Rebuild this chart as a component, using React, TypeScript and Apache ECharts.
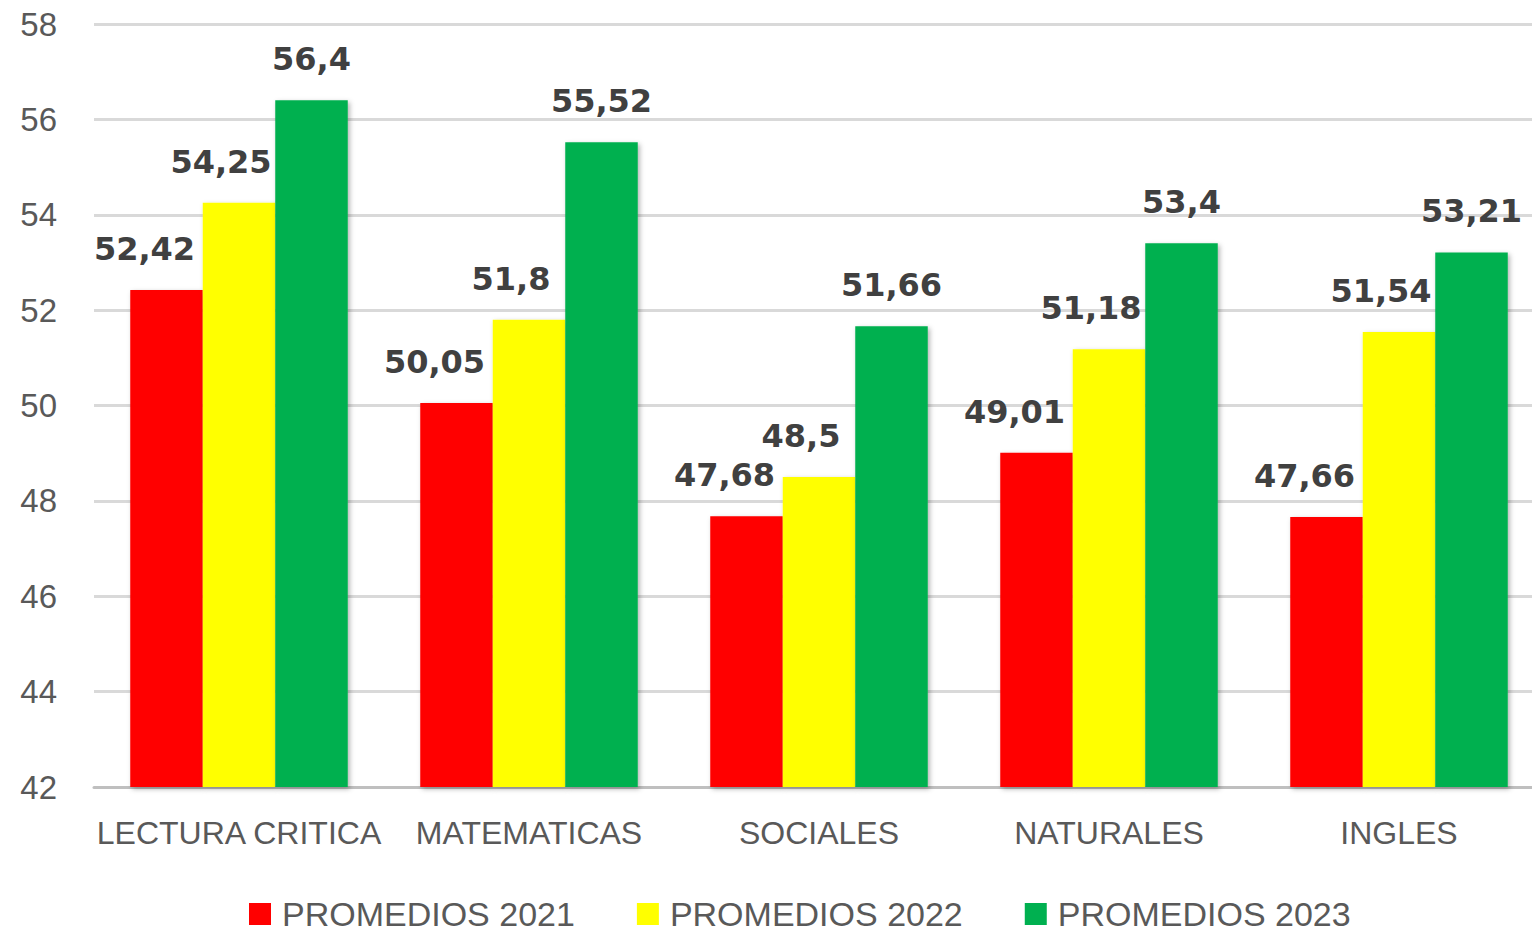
import React, { useEffect, useRef } from "react";
import * as echarts from "echarts";

const categories = ["LECTURA CRITICA", "MATEMATICAS", "SOCIALES", "NATURALES", "INGLES"];
const seriesNames = ["PROMEDIOS 2021", "PROMEDIOS 2022", "PROMEDIOS 2023"];
const promedios2021 = [52.42, 50.05, 47.68, 49.01, 47.66];
const promedios2022 = [54.25, 51.8, 48.5, 51.18, 51.54];
const promedios2023 = [56.4, 55.52, 51.66, 53.4, 53.21];
const colors = ["#ff0000", "#ffff00", "#00b050"];
const labelShiftX = [-22, -18, 0];

export default function App() {
  const ref = useRef<HTMLDivElement>(null);
  useEffect(() => {
    if (!ref.current) return;
    const chart = echarts.init(ref.current, null, { renderer: "svg" });
    const values = [promedios2021, promedios2022, promedios2023];
    chart.setOption({
      animation: false,
      backgroundColor: "#ffffff",
      grid: { left: 94, right: 0, top: 24, bottom: 145 },
      legend: {
        left: 244,
        top: 892,
        itemWidth: 22,
        itemHeight: 22,
        itemGap: 62,
        icon: "rect",
        textStyle: {
          fontFamily: "Liberation Sans",
          fontSize: 34,
          lineHeight: 34,
          color: "#595959",
          padding: [0, 0, 0, 6],
        },
        data: seriesNames,
      },
      xAxis: {
        type: "category",
        data: categories,
        axisLine: { show: true, lineStyle: { color: "#bfbfbf", width: 3 } },
        axisTick: { show: false },
        axisLabel: {
          fontFamily: "Liberation Sans",
          fontSize: 32,
          color: "#595959",
          margin: 30,
          interval: 0,
        },
      },
      yAxis: {
        type: "value",
        min: 42,
        max: 58,
        interval: 2,
        axisLine: { show: false },
        axisTick: { show: false },
        splitLine: { lineStyle: { color: "#d9d9d9", width: 3 } },
        axisLabel: {
          fontFamily: "Liberation Sans",
          fontSize: 33,
          color: "#595959",
          margin: 37,
        },
      },
      series: seriesNames.map((name, i) => ({
        name,
        type: "bar",
        data: values[i],
        barGap: "0%",
        barCategoryGap: "25%",
        itemStyle: {
          color: colors[i],
          shadowColor: "rgba(0,0,0,0.3)",
          shadowBlur: 5,
          shadowOffsetX: 2,
          shadowOffsetY: 2,
        },
        label: {
          show: true,
          position: "top",
          distance: 25,
          offset: [labelShiftX[i], 0],
          fontFamily: "DejaVu Sans",
          fontWeight: "bold",
          fontSize: 32,
          color: "#404040",
          formatter: (p: any) => String(p.value).replace(".", ","),
        },
      })),
    });
    return () => chart.dispose();
  }, []);
  return (
    <div
      style={{
        position: "fixed",
        left: 0,
        top: 0,
        width: 1532,
        height: 932,
        overflow: "hidden",
        background: "#ffffff",
      }}
    >
      <div ref={ref} style={{ width: 1544, height: 932 }} />
    </div>
  );
}
